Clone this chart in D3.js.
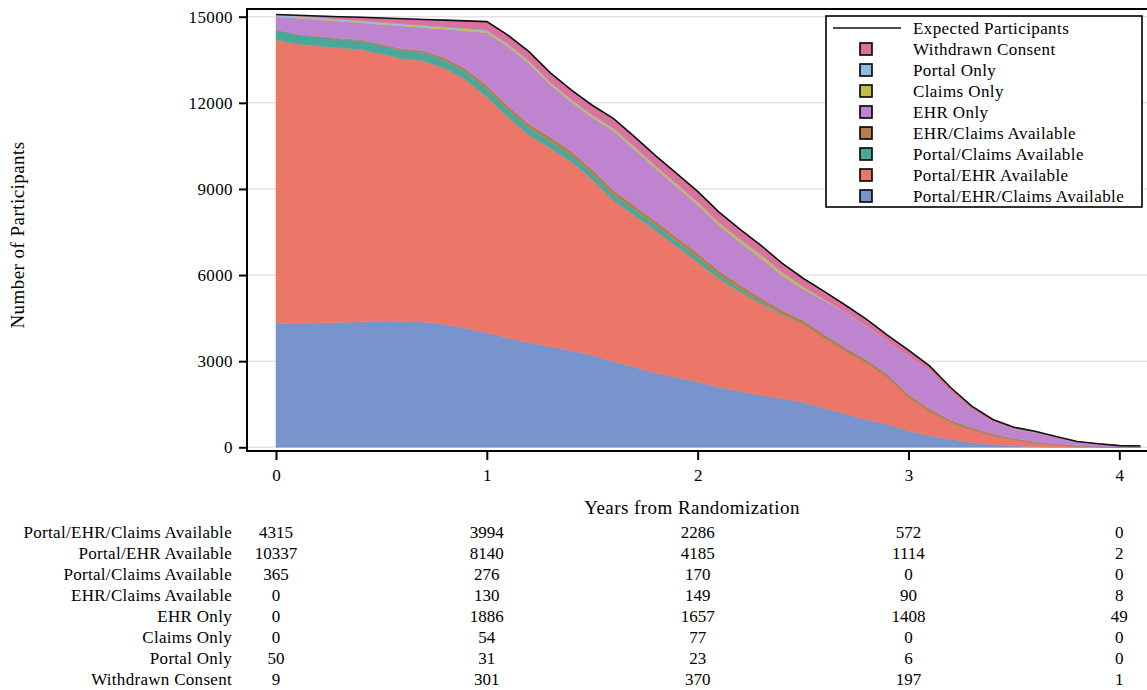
<!DOCTYPE html>
<html>
<head>
<meta charset="utf-8">
<script src="https://cdn.jsdelivr.net/npm/d3@7"></script>
<style>
  body { margin: 0; background: #fff; }
  svg { display: block; }
  text { font-family: "Liberation Serif", "Times New Roman", serif; fill: #000; }
</style>
</head>
<body>
<div id="chart"></div>
<script>
// time grid (years from randomization)
const years = [0, 0.1, 0.2, 0.3, 0.4, 0.5, 0.6, 0.7, 0.8, 0.9, 1.0,
  1.1, 1.2, 1.3, 1.4, 1.5, 1.6, 1.7, 1.8, 1.9, 2.0,
  2.1, 2.2, 2.3, 2.4, 2.5, 2.6, 2.7, 2.8, 2.9, 3.0,
  3.1, 3.2, 3.3, 3.4, 3.5, 3.6, 3.7, 3.8, 3.9, 4.0, 4.1];

// series, bottom of stack first
const portalEhrClaims = [4315, 4320, 4330, 4350, 4370, 4385, 4375, 4365, 4290, 4150, 3994,
  3810, 3655, 3510, 3370, 3210, 3000, 2790, 2590, 2430, 2286,
  2090, 1950, 1810, 1700, 1570, 1360, 1170, 960, 800, 572,
  410, 280, 170, 95, 50, 25, 12, 6, 3, 0, 0];
const portalEhr = [9885, 9730, 9650, 9570, 9490, 9315, 9165, 9095, 8910, 8650, 8206,
  7690, 7225, 6919, 6580, 6120, 5600, 5290, 4960, 4570, 4164,
  3780, 3470, 3190, 2920, 2730, 2460, 2200, 1990, 1650, 1178,
  850, 600, 450, 325, 220, 135, 78, 39, 17, 2, 1];
const portalClaims = [330, 320, 310, 300, 295, 290, 285, 280, 280, 278, 276,
  260, 250, 240, 230, 220, 210, 200, 190, 180, 170,
  140, 110, 70, 30, 5, 0, 0, 0, 0, 0,
  0, 0, 0, 0, 0, 0, 0, 0, 0, 0, 0];
const ehrClaims = [15, 20, 25, 30, 40, 50, 60, 75, 90, 110, 130,
  132, 134, 136, 138, 140, 142, 144, 146, 148, 149,
  145, 140, 135, 128, 120, 115, 108, 100, 95, 90,
  80, 70, 60, 50, 40, 30, 22, 15, 10, 8, 5];
const ehrOnly = [452, 560, 579, 588, 593, 692, 791, 804, 991, 1315, 1838,
  2072, 2109, 1832, 1712, 1798, 2073, 1951, 1827, 1751, 1678,
  1579, 1477, 1382, 1210, 1080, 1182, 1217, 1176, 1146, 1344,
  1321, 988, 641, 418, 331, 332, 240, 132, 87, 49, 38];
const claimsOnly = [20, 22, 25, 28, 30, 33, 36, 40, 45, 50, 54,
  56, 58, 60, 62, 65, 67, 70, 72, 75, 77,
  85, 92, 100, 100, 80, 30, 0, 0, 0, 0,
  0, 0, 0, 0, 0, 0, 0, 0, 0, 0, 0];
const portalOnly = [50, 48, 46, 44, 42, 40, 38, 36, 34, 32, 31,
  30, 29, 28, 27, 27, 26, 25, 24, 24, 23,
  21, 20, 18, 16, 15, 13, 11, 9, 7, 6,
  5, 4, 3, 2, 2, 1, 1, 0, 0, 0, 0];
const withdrawn = [9, 30, 60, 90, 120, 150, 180, 210, 240, 270, 301,
  310, 320, 325, 330, 335, 340, 350, 355, 362, 370,
  360, 345, 330, 310, 290, 270, 250, 230, 212, 197,
  170, 140, 110, 80, 55, 35, 20, 10, 5, 1, 1];

const categories = ["Portal/EHR/Claims Available", "Portal/EHR Available", "Portal/Claims Available",
  "EHR/Claims Available", "EHR Only", "Claims Only", "Portal Only", "Withdrawn Consent"];
const colors = ["#7794cc", "#ec7769", "#4aa89b", "#b07f52", "#be84d0", "#bcbe45", "#8bbfe6", "#da72a1"];

// numbers-at-risk table under the chart
const tableYears = [0, 1, 2, 3, 4];
const tableRows = [
  [4315, 3994, 2286, 572, 0],
  [10337, 8140, 4185, 1114, 2],
  [365, 276, 170, 0, 0],
  [0, 130, 149, 90, 8],
  [0, 1886, 1657, 1408, 49],
  [0, 54, 77, 0, 0],
  [50, 31, 23, 6, 0],
  [9, 301, 370, 197, 1]
];

const yTicks = [0, 3000, 6000, 9000, 12000, 15000];
const xTicks = [0, 1, 2, 3, 4];

const W = 1147, H = 690;
const plot = { left: 247, top: 9, right: 1152, bottom: 451 };

const svg = d3.select('#chart').append('svg')
  .attr('width', W)
  .attr('height', H);

const x = d3.scaleLinear().domain([0, 4]).range([276, 1119.3]);
const y = d3.scaleLinear().domain([0, 15000]).range([447.3, 16.7]);

svg.append('clipPath').attr('id', 'clip')
  .append('rect')
  .attr('x', plot.left).attr('y', plot.top)
  .attr('width', plot.right - plot.left).attr('height', plot.bottom - plot.top);

// gridlines
svg.append('g')
  .selectAll('line')
  .data(yTicks)
  .join('line')
  .attr('x1', plot.left).attr('x2', plot.right)
  .attr('y1', d => y(d)).attr('y2', d => y(d))
  .attr('stroke', '#e4e4e4')
  .attr('stroke-width', 1.5);

// stacked areas
const keys = categories;
const seriesData = [portalEhrClaims, portalEhr, portalClaims, ehrClaims, ehrOnly, claimsOnly, portalOnly, withdrawn];
const rows = years.map((t, i) => {
  const r = { t: t };
  keys.forEach((k, j) => { r[k] = seriesData[j][i]; });
  return r;
});

const stacked = d3.stack().keys(keys)(rows);

const area = d3.area()
  .x(d => x(d.data.t))
  .y0(d => y(d[0]))
  .y1(d => y(d[1]));

const areas = svg.append('g').attr('clip-path', 'url(#clip)');
areas.selectAll('path')
  .data(stacked)
  .join('path')
  .attr('d', area)
  .attr('fill', (d, i) => colors[i])
  .attr('stroke', (d, i) => colors[i])
  .attr('stroke-width', 0.5);

// expected participants line on the total
const totals = rows.map(r => ({ t: r.t, v: d3.sum(keys, k => r[k]) }));
areas.append('path')
  .datum(totals)
  .attr('d', d3.line().x(d => x(d.t)).y(d => y(d.v)))
  .attr('fill', 'none')
  .attr('stroke', '#111')
  .attr('stroke-width', 1.6);

// frame
svg.append('rect')
  .attr('x', plot.left).attr('y', plot.top)
  .attr('width', plot.right - plot.left).attr('height', plot.bottom - plot.top)
  .attr('fill', 'none')
  .attr('stroke', '#000')
  .attr('stroke-width', 2);

// axes
const yAxis = svg.append('g')
  .attr('transform', `translate(${plot.left},0)`)
  .call(d3.axisLeft(y).tickValues(yTicks).tickSize(8).tickPadding(6).tickFormat(d3.format('d')));
yAxis.select('.domain').remove();
yAxis.selectAll('line').attr('stroke', '#000').attr('stroke-width', 2);
yAxis.selectAll('text')
  .style('font-family', '"Liberation Serif", serif')
  .style('font-size', '17px')
  .style('letter-spacing', '0.4px');

const xAxis = svg.append('g')
  .attr('transform', `translate(0,${plot.bottom})`)
  .call(d3.axisBottom(x).tickValues(xTicks).tickSize(9).tickPadding(9).tickFormat(d3.format('d')));
xAxis.select('.domain').remove();
xAxis.selectAll('line').attr('stroke', '#000').attr('stroke-width', 2);
xAxis.selectAll('text')
  .style('font-family', '"Liberation Serif", serif')
  .style('font-size', '17px');

// axis titles
svg.append('text')
  .attr('x', 692).attr('y', 514)
  .attr('text-anchor', 'middle')
  .style('font-size', '19px')
  .style('letter-spacing', '0.45px')
  .text('Years from Randomization');

svg.append('text')
  .attr('transform', 'translate(24,235) rotate(-90)')
  .attr('text-anchor', 'middle')
  .style('font-size', '19px')
  .style('letter-spacing', '0.45px')
  .text('Number of Participants');

// legend
const legend = svg.append('g');
legend.append('rect')
  .attr('x', 826).attr('y', 16)
  .attr('width', 316).attr('height', 191)
  .attr('fill', '#fff')
  .attr('stroke', '#000')
  .attr('stroke-width', 1.6);

const legendItems = [{ name: 'Expected Participants', line: true }]
  .concat(categories.map((c, i) => ({ name: c, color: colors[i] })).reverse());

legendItems.forEach((item, i) => {
  const cy = 28 + i * 21;
  if (item.line) {
    legend.append('line')
      .attr('x1', 833).attr('x2', 901)
      .attr('y1', cy).attr('y2', cy)
      .attr('stroke', '#111').attr('stroke-width', 1.6);
  } else {
    legend.append('rect')
      .attr('x', 860).attr('y', cy - 6)
      .attr('width', 12).attr('height', 12)
      .attr('fill', item.color)
      .attr('stroke', '#000').attr('stroke-width', 1.6);
  }
  legend.append('text')
    .attr('x', 913).attr('y', cy + 5.5)
    .style('font-size', '17px')
    .style('letter-spacing', '0.4px')
    .text(item.name);
});

// numbers table
const table = svg.append('g');
categories.forEach((c, i) => {
  const cy = 532 + i * 21.1;
  table.append('text')
    .attr('x', 232).attr('y', cy + 5.5)
    .attr('text-anchor', 'end')
    .style('font-size', '17px')
    .style('letter-spacing', '0.3px')
    .text(c);
  tableYears.forEach((t, j) => {
    table.append('text')
      .attr('x', x(t)).attr('y', cy + 5.5)
      .attr('text-anchor', 'middle')
      .style('font-size', '17px')
      .text(tableRows[i][j]);
  });
});
</script>
</body>
</html>
